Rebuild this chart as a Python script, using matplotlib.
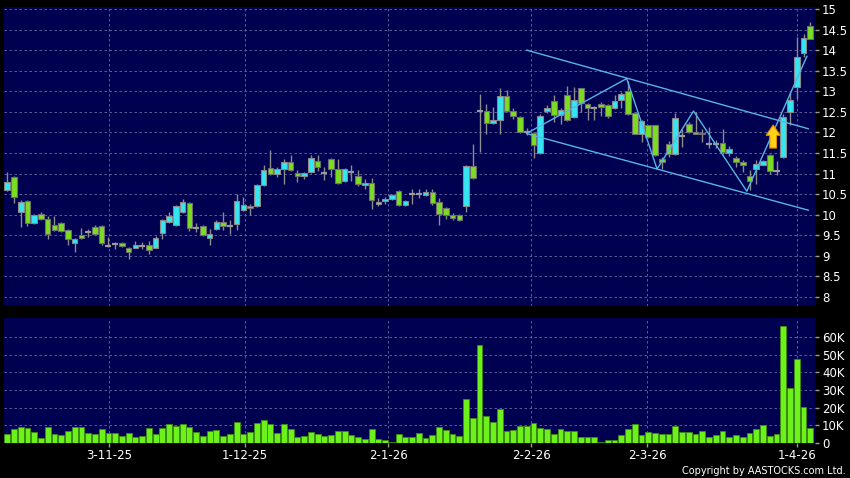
import matplotlib
matplotlib.use('Agg')
import matplotlib.pyplot as plt
from matplotlib.patches import FancyArrow
import numpy as np

# daily candles (open, high, low, close)
opens = [10.60, 10.91, 10.06, 10.34, 9.81, 10.02, 9.90, 9.75, 9.80, 9.63,
         9.32, 9.50, 9.57, 9.70, 9.72, 9.24, 9.29, 9.31, 9.19, 9.20,
         9.24, 9.26, 9.20, 9.55, 9.83, 9.75, 10.06, 10.29, 9.68, 9.72,
         9.43, 9.65, 9.83, 9.73, 9.77, 10.11, 10.21, 10.21, 10.72, 11.14,
         10.99, 11.10, 11.29, 11.02, 10.94, 11.03, 11.31, 11.01, 11.36, 11.12,
         10.82, 11.05, 10.93, 10.72, 10.77, 10.26, 10.33, 10.38, 10.58, 10.24,
         10.50, 10.50, 10.48, 10.54, 10.31, 10.16, 9.99, 10.00, 10.20, 11.19,
         12.51, 12.51, 12.23, 12.31, 12.89, 12.52, 12.37, 12.00, 11.98, 11.50,
         12.51, 12.76, 12.43, 12.92, 12.37, 13.07, 12.70, 12.60, 12.70, 12.66,
         12.60, 12.80, 13.01, 12.48, 11.97, 12.17, 12.17, 11.36, 11.71, 11.48,
         11.91, 12.21, 12.01, 11.99, 11.72, 11.72, 11.75, 11.50, 11.37, 11.29,
         10.93, 11.12, 11.22, 11.44, 11.06, 11.40, 12.50, 13.11, 13.94, 14.59]
highs = [11.03, 10.93, 10.35, 10.36, 10.01, 10.07, 9.96, 9.96, 9.82, 9.65,
         9.43, 9.67, 9.65, 9.74, 9.74, 9.46, 9.34, 9.33, 9.21, 9.37,
         9.34, 9.37, 9.48, 9.89, 10.07, 10.24, 10.38, 10.31, 9.80, 9.74,
         9.65, 9.88, 10.06, 9.88, 10.50, 10.44, 10.26, 10.74, 11.20, 11.58,
         11.15, 11.36, 11.44, 11.09, 11.03, 11.46, 11.46, 11.17, 11.38, 11.36,
         11.14, 11.20, 11.09, 10.86, 10.89, 10.40, 10.44, 10.50, 10.59, 10.36,
         10.62, 10.63, 10.62, 10.62, 10.40, 10.18, 10.05, 10.02, 11.22, 11.71,
         12.93, 12.68, 12.63, 13.09, 13.04, 12.60, 12.41, 12.10, 12.00, 12.45,
         12.66, 12.90, 12.60, 13.12, 13.10, 13.09, 12.72, 12.65, 12.74, 12.68,
         12.90, 12.98, 13.25, 12.50, 12.31, 12.19, 12.19, 11.40, 11.78, 12.47,
         12.09, 12.25, 12.50, 12.09, 12.14, 11.82, 12.09, 11.68, 11.43, 11.34,
         11.08, 11.32, 11.32, 11.48, 11.31, 12.45, 12.98, 14.33, 14.40, 14.69]
lows = [10.58, 10.29, 9.69, 9.72, 9.77, 9.88, 9.42, 9.61, 9.59, 9.27,
        9.10, 9.41, 9.45, 9.50, 9.26, 9.22, 9.16, 9.21, 8.92, 9.18,
        9.16, 9.04, 9.18, 9.40, 9.81, 9.73, 10.04, 9.61, 9.57, 9.49,
        9.26, 9.63, 9.63, 9.54, 9.63, 10.09, 10.00, 10.19, 10.70, 10.97,
        10.91, 10.75, 11.07, 10.79, 10.86, 11.01, 11.07, 10.85, 10.91, 10.75,
        10.80, 10.83, 10.70, 10.62, 10.15, 10.20, 10.26, 10.36, 10.22, 10.20,
        10.26, 10.40, 10.46, 10.24, 9.76, 9.90, 9.88, 9.84, 10.06, 10.87,
        11.52, 11.97, 12.20, 11.97, 12.50, 12.33, 11.98, 11.93, 11.38, 11.48,
        12.48, 12.25, 12.20, 12.29, 12.35, 12.50, 12.31, 12.31, 12.40, 12.34,
        12.58, 12.60, 12.42, 11.95, 11.77, 11.87, 11.42, 11.10, 11.40, 11.46,
        11.64, 11.98, 11.95, 11.77, 11.61, 11.62, 11.48, 11.43, 11.17, 11.03,
        10.59, 10.75, 11.20, 11.00, 10.97, 11.38, 12.17, 12.82, 13.84, 14.26]
closes = [10.80, 10.44, 10.32, 9.81, 9.99, 9.90, 9.54, 9.63, 9.61, 9.42,
          9.41, 9.43, 9.57, 9.53, 9.31, 9.24, 9.29, 9.23, 9.10, 9.27,
          9.24, 9.15, 9.43, 9.87, 9.97, 10.20, 10.32, 9.68, 9.68, 9.51,
          9.53, 9.83, 9.72, 9.73, 10.33, 10.24, 10.16, 10.72, 11.09, 10.99,
          11.10, 11.29, 11.09, 10.94, 11.01, 11.38, 11.15, 11.01, 11.12, 10.77,
          11.12, 11.05, 10.75, 10.77, 10.36, 10.32, 10.38, 10.48, 10.24, 10.34,
          10.50, 10.50, 10.54, 10.29, 10.02, 9.99, 9.93, 9.87, 11.19, 10.89,
          12.51, 12.23, 12.31, 12.88, 12.52, 12.39, 12.01, 12.00, 11.69, 12.41,
          12.60, 12.43, 12.55, 12.31, 12.78, 12.72, 12.60, 12.60, 12.63, 12.40,
          12.76, 12.94, 12.44, 11.97, 12.29, 11.89, 11.44, 11.28, 11.48, 12.36,
          11.91, 12.01, 11.97, 11.95, 11.72, 11.72, 11.52, 11.60, 11.28, 11.22,
          10.81, 11.24, 11.30, 11.06, 11.06, 12.38, 12.78, 13.84, 14.30, 14.28]

# volume in shares
volume = [5100, 7900, 9200, 8600, 6400, 3000, 9200, 5100, 4500, 6900,
          8800, 8800, 5400, 5100, 7900, 5400, 5400, 3900, 5600, 3400,
          3900, 8300, 5100, 8300, 10500, 9800, 10500, 9200, 6200, 4100,
          6600, 7100, 4100, 5100, 11600, 5100, 6400, 11400, 12900, 10500,
          5400, 10500, 7700, 3200, 3900, 6400, 5100, 3800, 4300, 6900,
          6600, 4700, 3600, 2300, 8100, 2100, 1500, 400, 5100, 3400,
          3400, 5400, 3000, 4500, 9000, 7500, 5100, 3800, 25100, 14400,
          55500, 15200, 11600, 19300, 6600, 7500, 9800, 9800, 11100, 8400,
          7700, 5300, 7700, 6900, 6600, 3600, 3600, 3600, 600, 1500,
          1500, 4300, 7900, 10500, 4500, 6400, 5400, 5100, 5100, 9600,
          6400, 6200, 5300, 6800, 3600, 4500, 6800, 3600, 4500, 3400,
          5400, 8100, 9900, 4100, 5300, 66200, 31000, 47300, 20100, 8600]

date_pos = [15.1, 35.25, 56.45, 77.65, 94.8, 117.1]
date_labels = ['3-11-25', '1-12-25', '2-1-26', '2-2-26', '2-3-26', '1-4-26']

price_ticks = np.arange(8, 15.01, 0.5)
vol_ticks = [0, 10000, 20000, 30000, 40000, 50000, 60000]

# drawn trend lines (bar index, price)
upper_x, upper_y = [77, 118.7], [14.00, 12.09]
lower_x, lower_y = [77, 118.7], [11.97, 10.11]
zig_x = [77, 91.8, 96.3, 101.7, 109.6, 118.5]
zig_y = [11.98, 13.31, 11.11, 12.52, 10.57, 13.85]

navy = '#000050'
cyan = '#33E6F2'
green = '#7BDD22'
grid_c = '#6a6aa0'
line_c = '#58B4E6'

fig = plt.figure(figsize=(8.5, 4.78), dpi=100, facecolor='black')
ax = fig.add_axes([4/850, 1 - 306/478, 811/850, 299/478], facecolor=navy)
axv = fig.add_axes([4/850, 1 - 443/478, 811/850, 125/478], facecolor=navy)

o = np.array(opens)
h = np.array(highs)
l = np.array(lows)
c = np.array(closes)
x = np.arange(len(o))

up = c > o
dn = c < o
dj = c == o

ax.vlines(x, l, h, color='#8c8c8c', lw=1, zorder=2)
ax.bar(x[up], (c - o)[up], bottom=o[up], width=0.84, color=cyan,
       edgecolor='#8a8a8a', lw=0.8, zorder=3)
ax.bar(x[dn], (o - c)[dn], bottom=c[dn], width=0.84, color=green,
       edgecolor='#6f6f6f', lw=0.8, zorder=3)
ax.hlines(c[dj], x[dj] - 0.45, x[dj] + 0.45, color='#9a9a9a', lw=1.6, zorder=3)

ax.plot(upper_x, upper_y, color=line_c, lw=1, zorder=4)
ax.plot(lower_x, lower_y, color=line_c, lw=1, zorder=4)
ax.plot(zig_x, zig_y, color=line_c, lw=1, zorder=4)

ax.add_patch(FancyArrow(113.5, 11.62, 0, 0.56, width=1.0, head_width=2.1,
                        head_length=0.25, length_includes_head=True,
                        facecolor='#FFD21A', edgecolor='#E08A00', lw=0.8, zorder=5))

axv.bar(x, volume, width=0.86, color='#6CF21A', edgecolor='#3C8C12', lw=0.6, zorder=3)

for a in (ax, axv):
    a.set_xlim(-0.47, 119.7)
    for s in a.spines.values():
        s.set_visible(False)
    a.set_xticks(date_pos)
    a.grid(True, color=grid_c, ls=(0, (3, 3)), lw=0.6, zorder=1)
    a.yaxis.tick_right()
    a.tick_params(axis='y', colors='#9a9a9a', labelcolor='white', length=3,
                  width=1, pad=2, labelsize=8.5)

ax.set_ylim(7.78, 15.05)
ax.set_yticks(price_ticks)
ax.set_yticklabels([f'{v:g}' for v in price_ticks])
ax.tick_params(axis='x', length=0, labelbottom=False)

axv.set_ylim(0, 70700)
axv.set_yticks(vol_ticks)
axv.set_yticklabels(['0' if v == 0 else f'{v // 1000}K' for v in vol_ticks])
axv.set_xticklabels(date_labels)
axv.tick_params(axis='x', colors='#9a9a9a', labelcolor='white', length=3,
                width=1, pad=1, labelsize=8.5)

fig.text(0.995, 0.005, 'Copyright by AASTOCKS.com Ltd.', ha='right', va='bottom',
         color='white', fontsize=7.0)

fig.savefig('out.png', dpi=100, facecolor='black')
